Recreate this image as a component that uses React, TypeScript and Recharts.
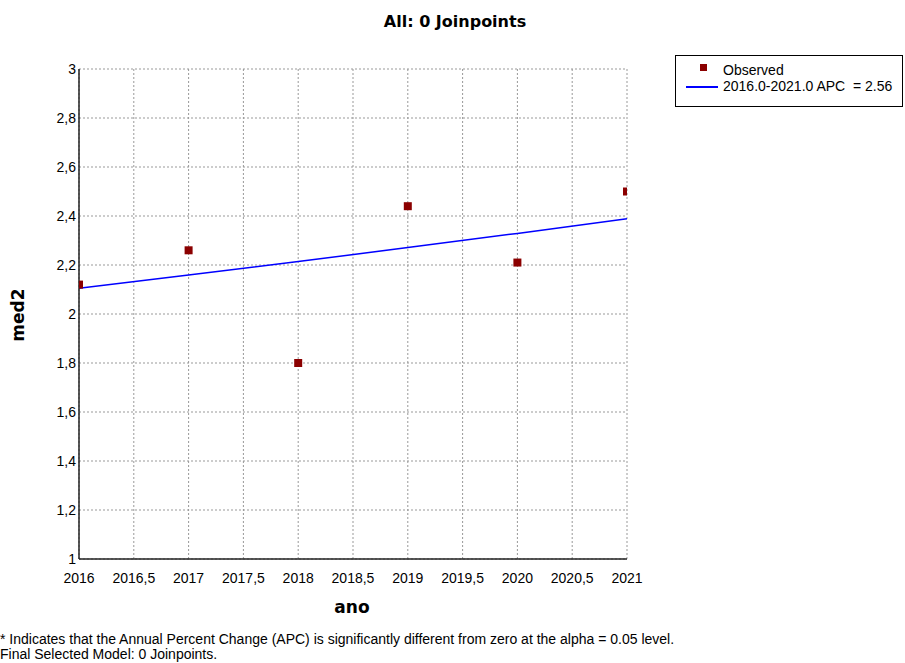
import React from 'react';
import { ComposedChart, XAxis, YAxis, CartesianGrid, Scatter, Line } from 'recharts';

const years = [2016, 2017, 2018, 2019, 2020, 2021];
const observed = [2.12, 2.26, 1.8, 2.44, 2.21, 2.5];
const fitted = [2.105, 2.159, 2.214, 2.271, 2.329, 2.389];
const xTicks = [2016, 2016.5, 2017, 2017.5, 2018, 2018.5, 2019, 2019.5, 2020, 2020.5, 2021];
const yTicks = [1, 1.2, 1.4, 1.6, 1.8, 2, 2.2, 2.4, 2.6, 2.8, 3];
const titleText = 'All: 0 Joinpoints';
const xLabel = 'ano';
const yLabel = 'med2';
const legendObserved = 'Observed';
const legendFit = '2016.0-2021.0 APC  = 2.56';
const footer1 = '* Indicates that the Annual Percent Change (APC) is significantly different from zero at the alpha = 0.05 level.';
const footer2 = 'Final Selected Model: 0 Joinpoints.';

const data = years.map((y, i) => ({ year: y, obs: observed[i], fit: fitted[i] }));

const fmt = (v: number) => String(v).replace('.', ',');
const tickFont = '"Liberation Sans", Arial, sans-serif';
const boldFont = '"DejaVu Sans", Verdana, sans-serif';

const XTick = (props: any) => {
  const { x, y, payload } = props;
  return (
    <text x={x} y={y + 24} textAnchor="middle" fontFamily={tickFont} fontSize={14} fill="#000">
      {fmt(payload.value)}
    </text>
  );
};

const YTick = (props: any) => {
  const { x, y, payload } = props;
  return (
    <text x={x - 3} y={y + 5} textAnchor="end" fontFamily={tickFont} fontSize={14} fill="#000">
      {fmt(payload.value)}
    </text>
  );
};

const Square = (props: any) => {
  const { cx, cy } = props;
  return <rect x={cx - 4} y={cy - 4} width={8} height={8} fill="#8B0000" />;
};

const LegendBox = () => (
  <div
    style={{
      position: 'absolute',
      left: 675,
      top: 55,
      width: 228,
      height: 52,
      border: '1px solid #000',
      boxSizing: 'border-box',
      background: '#fff',
      fontFamily: tickFont,
      fontSize: 14,
      color: '#000',
    }}
  >
    <div style={{ position: 'absolute', left: 24, top: 8, width: 7, height: 7, background: '#8B0000' }} />
    <div style={{ position: 'absolute', left: 47, top: 6, lineHeight: '16px', whiteSpace: 'pre' }}>{legendObserved}</div>
    <div style={{ position: 'absolute', left: 10, top: 30, width: 32, height: 2, background: '#0000FF' }} />
    <div style={{ position: 'absolute', left: 47, top: 22, lineHeight: '16px', whiteSpace: 'pre' }}>{legendFit}</div>
  </div>
);

export default function App() {
  return (
    <div style={{ position: 'absolute', left: 0, top: 0, width: 905, height: 663, background: '#fff', overflow: 'hidden' }}>
      <div
        style={{
          position: 'absolute',
          left: 0,
          width: 910,
          top: 11,
          textAlign: 'center',
          fontFamily: boldFont,
          fontWeight: 'bold',
          fontSize: 16,
          lineHeight: '22px',
        }}
      >
        {titleText}
      </div>
      <ComposedChart
        width={905}
        height={663}
        data={data}
        margin={{ top: 69, right: 278, bottom: 74, left: 39 }}
        style={{ position: 'absolute', left: 0, top: 0 }}
      >
        <CartesianGrid stroke="#999" strokeDasharray="2 2" horizontal vertical />
        <XAxis
          dataKey="year"
          type="number"
          domain={[2016, 2021]}
          ticks={xTicks}
          tick={<XTick />}
          tickLine={false}
          tickSize={0}
          tickMargin={0}
          height={30}
          axisLine={{ stroke: '#222', strokeWidth: 1.5 }}
          interval={0}
          allowDataOverflow
        />
        <XAxis
          xAxisId="top"
          orientation="top"
          dataKey="year"
          type="number"
          domain={[2016, 2021]}
          tick={false}
          tickLine={false}
          height={0}
          axisLine={{ stroke: '#333', strokeWidth: 1 }}
        />
        <YAxis
          type="number"
          domain={[1, 3]}
          ticks={yTicks}
          tick={<YTick />}
          tickLine={false}
          tickSize={0}
          tickMargin={0}
          width={40}
          axisLine={{ stroke: '#222', strokeWidth: 1.5 }}
          interval={0}
          allowDataOverflow
        />
        <YAxis
          yAxisId="right"
          orientation="right"
          type="number"
          domain={[1, 3]}
          tick={false}
          tickLine={false}
          width={0}
          axisLine={{ stroke: '#333', strokeWidth: 1 }}
        />
        <Line
          dataKey="fit"
          stroke="#0000FF"
          strokeWidth={1.5}
          dot={false}
          activeDot={false}
          isAnimationActive={false}
          name={legendFit}
        />
        <Scatter dataKey="obs" shape={<Square />} isAnimationActive={false} name={legendObserved} />
      </ComposedChart>
      <LegendBox />
      <div
        style={{
          position: 'absolute',
          left: 302,
          width: 100,
          top: 596,
          textAlign: 'center',
          fontFamily: boldFont,
          fontWeight: 'bold',
          fontSize: 17,
          lineHeight: '22px',
        }}
      >
        {xLabel}
      </div>
      <div
        style={{
          position: 'absolute',
          left: 18,
          top: 315,
          transform: 'translate(-50%, -50%) rotate(-90deg)',
          fontFamily: boldFont,
          fontWeight: 'bold',
          fontSize: 17,
          lineHeight: '22px',
          whiteSpace: 'nowrap',
        }}
      >
        {yLabel}
      </div>
      <div
        style={{
          position: 'absolute',
          left: 0,
          top: 632,
          fontFamily: tickFont,
          fontSize: 14,
          lineHeight: '15px',
          whiteSpace: 'pre',
          color: '#000',
        }}
      >
        <div>{footer1}</div>
        <div>{footer2}</div>
      </div>
    </div>
  );
}
